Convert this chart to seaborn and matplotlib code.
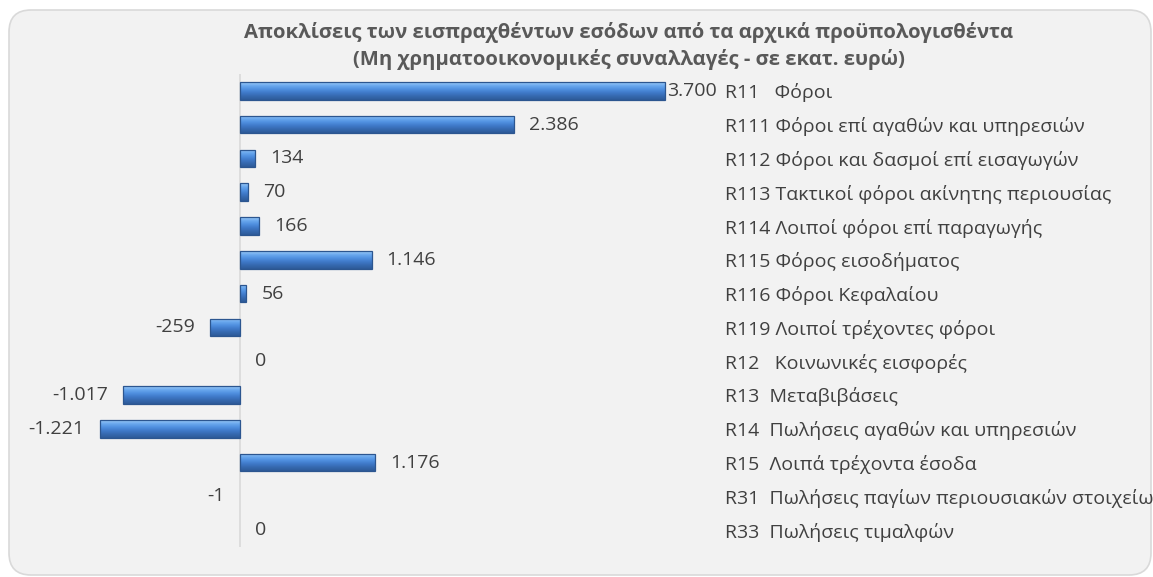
import matplotlib
matplotlib.use("Agg")
import matplotlib.pyplot as plt
from matplotlib.patches import FancyBboxPatch
from matplotlib.colors import LinearSegmentedColormap
import numpy as np
import seaborn as sns
import pandas as pd

# chart data
codes = ["R11", "R111", "R112", "R113", "R114", "R115", "R116", "R119",
         "R12", "R13", "R14", "R15", "R31", "R33"]
names = ["R11   Φόροι",
         "R111 Φόροι επί αγαθών και υπηρεσιών",
         "R112 Φόροι και δασμοί επί εισαγωγών",
         "R113 Τακτικοί φόροι ακίνητης περιουσίας",
         "R114 Λοιποί φόροι επί παραγωγής",
         "R115 Φόρος εισοδήματος",
         "R116 Φόροι Κεφαλαίου",
         "R119 Λοιποί τρέχοντες φόροι",
         "R12   Κοινωνικές εισφορές",
         "R13  Μεταβιβάσεις",
         "R14  Πωλήσεις αγαθών και υπηρεσιών",
         "R15  Λοιπά τρέχοντα έσοδα",
         "R31  Πωλήσεις παγίων περιουσιακών στοιχείων",
         "R33  Πωλήσεις τιμαλφών"]
values = [3700, 2386, 134, 70, 166, 1146, 56, -259, 0, -1017, -1221, 1176, -1, 0]

title = ("Αποκλίσεις των εισπραχθέντων εσόδων από τα αρχικά προϋπολογισθέντα\n"
         "(Μη χρηματοοικονομικές συναλλαγές - σε εκατ. ευρώ)")

df = pd.DataFrame({"label": names, "value": values})

sns.set_style("white")
plt.rcParams["font.family"] = ["Open Sans", "DejaVu Sans"]

W, H = 1153, 577
fig = plt.figure(figsize=(W / 100, H / 100), dpi=100, facecolor="white")

# rounded chart area
fig.patches.append(FancyBboxPatch((9, 2), 1142, 565,
                                  boxstyle="round,pad=0,rounding_size=22",
                                  transform=None, facecolor="#f2f2f2",
                                  edgecolor="#d9d9d9", linewidth=1.2, zorder=-5))

ax = fig.add_axes([90.6 / W, 30 / H, 609 / W, 473 / H])
ax.set_facecolor("none")
ax.set_zorder(2)

sns.barplot(data=df, y="label", x="value", orient="h", color="#4a88d6",
            edgecolor="#2c5690", linewidth=0.9, width=0.52, saturation=1,
            ax=ax, zorder=3)

# bevel-like gradient fill clipped to each bar
bar_cmap = LinearSegmentedColormap.from_list(
    "bevel", ["#9ccbf7", "#6aa8ee", "#4f8fdf", "#3f79c8", "#3568ae", "#2e5a98"])
grad = np.linspace(0, 1, 64).reshape(-1, 1)
for p in ax.patches:
    w = p.get_width()
    if abs(w) < 5:
        p.set_visible(False)
        continue
    x0, y0 = p.get_x(), p.get_y()
    h = p.get_height()
    p.set_facecolor("none")
    im = ax.imshow(grad, cmap=bar_cmap, aspect="auto", origin="upper",
                   extent=[x0, x0 + w, y0 + h, y0], zorder=2.9,
                   interpolation="bilinear")
    im.set_clip_path(p)

ax.set_xlim(-1300, 4000)
ax.set_ylim(13.5, -0.5)
ax.axvline(0, color="#d9d9d9", lw=1.2, zorder=2)

vmax = max(values)
for i, v in enumerate(values):
    txt = f"{v:,}".replace(",", ".")
    ha = "right" if v < 0 else "left"
    if v < 0:
        off = -15
    elif v == vmax:
        off = 2  # squeezed in next to the category label, as in the source
    else:
        off = 15
    ax.annotate(txt, xy=(v, i), xytext=(off, 0), textcoords="offset pixels",
                ha=ha, va="center", fontsize=14, color="#404040")

ax.yaxis.tick_right()
ax.tick_params(axis="y", length=0, pad=18, labelsize=14, labelcolor="#404040")
for t in ax.get_yticklabels():
    t.set_ha("left")
ax.set_xticks([])
ax.set_xlabel("")
ax.set_ylabel("")
sns.despine(ax=ax, left=True, bottom=True, right=True, top=True)

fig.text(629 / W, 1 - 46 / H, title, ha="center", va="center",
         fontsize=14.6, fontweight="bold", color="#595959", linespacing=1.35)

fig.savefig("out.png", dpi=100, facecolor="white")
